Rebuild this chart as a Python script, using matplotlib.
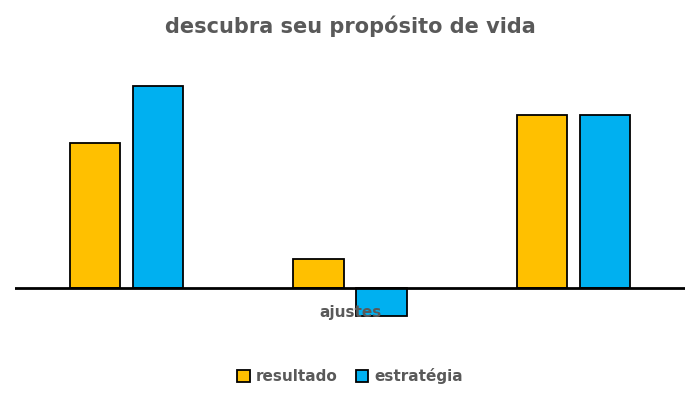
import matplotlib
matplotlib.use("Agg")
import matplotlib.pyplot as plt
import numpy as np

categories = ["", "ajustes", ""]
resultado = [145, 29, 173]
estrategia = [202, -28, 173]

fig = plt.figure(figsize=(7, 4), dpi=100)
ax = fig.add_axes([15/700, 70/400, 670/700, 260/400])
x = np.arange(len(categories))
w = 0.224
off = 0.141
ax.bar(x - off, resultado, w, color="#FFC000", edgecolor="black", linewidth=1.3, label="resultado")
ax.bar(x + off, estrategia, w, color="#00B0F0", edgecolor="black", linewidth=1.3, label="estratégia")
ax.axhline(0, color="black", linewidth=2)
ax.set_xlim(-0.5, 2.5)
ax.set_ylim(-42, 218)
ax.axis("off")
for i, c in enumerate(categories):
    if c:
        ax.text(x[i], -25, c, ha="center", va="center", fontsize=11, fontweight="bold", color="#595959")
fig.text(0.5, 0.935, "descubra seu propósito de vida", ha="center", va="center",
         fontsize=15, fontweight="bold", color="#595959")
fig.legend(loc="center", bbox_to_anchor=(0.5, 0.06), ncol=2, frameon=False,
           handlelength=0.8, handleheight=0.8, columnspacing=1.2, handletextpad=0.4,
           prop={"size": 11, "weight": "bold"}, labelcolor="#595959")
fig.savefig("out.png", dpi=100)
